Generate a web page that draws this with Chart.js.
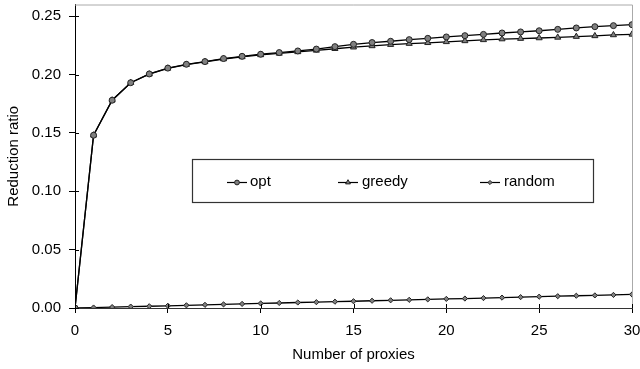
<!DOCTYPE html>
<html>
<head>
<meta charset="utf-8">
<script src="https://cdn.jsdelivr.net/npm/chart.js@4/dist/chart.umd.min.js"></script>
<style>
  html, body { margin: 0; padding: 0; background: #fff; }
  #wrap { width: 640px; height: 369px; position: relative; }
</style>
</head>
<body>
<div id="wrap"><canvas id="c" width="640" height="369"></canvas></div>
<script>
const proxies = [0,1,2,3,4,5,6,7,8,9,10,11,12,13,14,15,16,17,18,19,20,21,22,23,24,25,26,27,28,29,30];
const optValues = [0, 0.148, 0.178, 0.193, 0.2005, 0.2055, 0.2088, 0.2111, 0.2137, 0.2156, 0.2174, 0.2188, 0.2202, 0.2218, 0.2239, 0.2259, 0.2274, 0.2285, 0.2299, 0.2310, 0.2322, 0.2333, 0.2344, 0.2356, 0.2365, 0.2375, 0.2387, 0.2399, 0.2410, 0.2419, 0.2427];
const greedyValues = [0, 0.148, 0.178, 0.193, 0.2003, 0.2053, 0.2085, 0.2108, 0.2133, 0.2151, 0.2168, 0.2181, 0.2194, 0.2207, 0.2221, 0.2234, 0.2245, 0.2256, 0.2265, 0.2272, 0.2280, 0.2288, 0.2297, 0.2304, 0.2308, 0.2313, 0.2318, 0.2325, 0.2331, 0.2339, 0.2344];
const randomValues = [0, 0.0004, 0.0008, 0.0012, 0.0015, 0.0019, 0.0023, 0.0027, 0.0031, 0.0035, 0.0039, 0.0043, 0.0047, 0.0050, 0.0054, 0.0058, 0.0062, 0.0066, 0.0070, 0.0074, 0.0078, 0.0081, 0.0085, 0.0089, 0.0093, 0.0097, 0.0101, 0.0105, 0.0108, 0.0112, 0.0116];
const seriesNames = ['opt', 'greedy', 'random'];
const yTicks = [0, 0.05, 0.10, 0.15, 0.20, 0.25];
const xTicks = [0, 5, 10, 15, 20, 25, 30];

const FONT = 'Liberation Sans, Arial, Helvetica, sans-serif';

function pts(vals) { return proxies.map((p, i) => ({ x: p, y: vals[i] })); }

function ds(label, vals, style, radius) {
  return {
    label, data: pts(vals),
    borderColor: '#000', borderWidth: 1.3,
    pointStyle: style, pointRadius: radius, pointHoverRadius: radius,
    pointBackgroundColor: '#808080', pointBorderColor: '#222', pointBorderWidth: 1,
    tension: 0, fill: false
  };
}

const frameAndTicks = {
  id: 'frameAndTicks',
  afterDatasetsDraw(chart) {
    const { ctx, chartArea: a, scales } = chart;
    ctx.save();
    ctx.strokeStyle = '#aaaaaa'; ctx.lineWidth = 1;
    ctx.beginPath();
    ctx.moveTo(a.left, a.top + 0.5); ctx.lineTo(a.right + 0.5, a.top + 0.5);
    ctx.lineTo(a.right + 0.5, a.bottom);
    ctx.stroke();
    ctx.strokeStyle = '#000';
    ctx.beginPath();
    xTicks.forEach(v => {
      const x = Math.round(scales.x.getPixelForValue(v)) + 0.5;
      ctx.moveTo(x, a.bottom); ctx.lineTo(x, a.bottom - 4);
    });
    yTicks.forEach(v => {
      const y = Math.round(scales.y.getPixelForValue(v)) + 0.5;
      ctx.moveTo(a.left, y); ctx.lineTo(a.left + 4, y);
    });
    ctx.stroke();
    ctx.restore();
  }
};

const boxLegend = {
  id: 'boxLegend',
  afterDraw(chart) {
    const { ctx } = chart;
    const box = { l: 192, t: 159, r: 593, b: 202 };
    ctx.save();
    ctx.fillStyle = '#fff';
    ctx.fillRect(box.l, box.t, box.r - box.l, box.b - box.t);
    ctx.strokeStyle = '#333'; ctx.lineWidth = 1.2;
    ctx.strokeRect(box.l + 0.5, box.t + 0.5, box.r - box.l, box.b - box.t);
    const centers = [237, 348, 490];
    const textX = [250, 362, 504];
    const yc = 182;
    chart.data.datasets.forEach((d, i) => {
      ctx.strokeStyle = '#000'; ctx.lineWidth = 1.2;
      ctx.beginPath(); ctx.moveTo(centers[i] - 10, yc + 0.5); ctx.lineTo(centers[i] + 10, yc + 0.5); ctx.stroke();
      ctx.fillStyle = d.pointBackgroundColor; ctx.strokeStyle = d.pointBorderColor; ctx.lineWidth = 1;
      Chart.helpers.drawPoint(ctx, { pointStyle: d.pointStyle, radius: d.pointRadius * 0.8, borderWidth: 1, rotation: 0 }, centers[i], yc + 0.5);
      ctx.fillStyle = '#000';
      ctx.font = '15px ' + FONT;
      ctx.textBaseline = 'middle'; ctx.textAlign = 'left';
      ctx.fillText(d.label, textX[i], yc);
    });
    ctx.restore();
  }
};

new Chart(document.getElementById('c'), {
  type: 'line',
  data: {
    datasets: [
      ds(seriesNames[0], optValues, 'circle', 3),
      ds(seriesNames[1], greedyValues, 'triangle', 3.5),
      ds(seriesNames[2], randomValues, 'rectRot', 2.6)
    ]
  },
  options: {
    responsive: false, animation: false,
    layout: { padding: { left: 0, right: 8, top: 4, bottom: 0 } },
    plugins: { legend: { display: false }, tooltip: { enabled: false } },
    scales: {
      x: {
        type: 'linear', min: 0, max: 30,
        ticks: { stepSize: 5, color: '#000', font: { family: FONT, size: 15 }, padding: 9, maxRotation: 0 },
        afterBuildTicks: s => { s.ticks = xTicks.map(v => ({ value: v })); },
        grid: { drawOnChartArea: false, tickLength: 5, color: '#000', tickColor: '#000' },
        border: { color: '#333', width: 1 },
        title: { display: true, text: 'Number of proxies', color: '#000', font: { family: FONT, size: 15 }, padding: { top: 4, bottom: 5 } },
        afterFit: s => { s.height = 61; s.paddingLeft = 0; s.paddingRight = 0; }
      },
      y: {
        type: 'linear', min: 0, max: 0.26,
        ticks: { stepSize: 0.05, includeBounds: false, color: '#000', font: { family: FONT, size: 15 }, padding: 8,
                 callback: v => Number(v).toFixed(2) },
        afterBuildTicks: s => { s.ticks = yTicks.map(v => ({ value: v })); },
        grid: { drawOnChartArea: false, tickLength: 6, color: '#000', tickColor: '#000' },
        border: { color: '#000', width: 1 },
        title: { display: true, text: 'Reduction ratio', color: '#000', font: { family: FONT, size: 15 }, padding: { top: 5, bottom: 6 } },
        afterFit: s => { s.width = 75; s.paddingTop = 0; s.paddingBottom = 0; }
      }
    }
  },
  plugins: [frameAndTicks, boxLegend]
});
</script>
</body>
</html>
